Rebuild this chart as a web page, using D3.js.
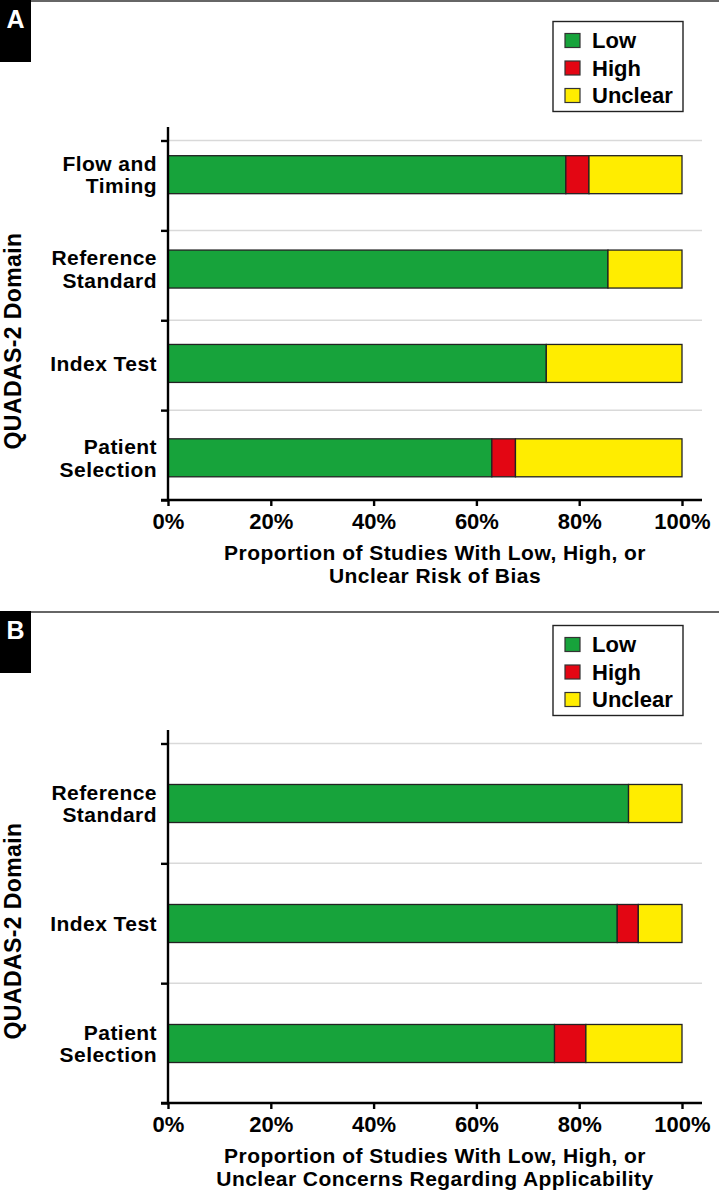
<!DOCTYPE html>
<html>
<head>
<meta charset="utf-8">
<script src="https://cdn.jsdelivr.net/npm/d3@7"></script>
<style>
  html, body { margin: 0; padding: 0; background: #fff; }
  svg { display: block; }
  text { font-family: "Liberation Sans", Arial, Helvetica, sans-serif; font-weight: bold; fill: #000; }
</style>
</head>
<body>
<svg id="chart" width="719" height="1190"></svg>
<script>
// ---------- DATA ----------
const seriesNames = ["Low", "High", "Unclear"];
const seriesColors = ["#17a33b", "#e30613", "#ffed00"];

const categoriesA = ["Flow and Timing", "Reference Standard", "Index Test", "Patient Selection"];
const lowA     = [77.4, 85.6, 73.6, 63.0];
const highA    = [4.5, 0, 0, 4.6];
const unclearA = [18.1, 14.4, 26.4, 32.4];

const categoriesB = ["Reference Standard", "Index Test", "Patient Selection"];
const lowB     = [89.6, 87.4, 75.2];
const highB    = [0, 4.1, 6.1];
const unclearB = [10.4, 8.5, 18.7];

const xTicks = [0, 20, 40, 60, 80, 100];
const panelLabels = ["A", "B"];
const yTitle = "QUADAS-2 Domain";
const xTitleA = ["Proportion of Studies With Low, High, or", "Unclear Risk of Bias"];
const xTitleB = ["Proportion of Studies With Low, High, or", "Unclear Concerns Regarding Applicability"];

// ---------- DRAW ----------
const svg = d3.select("#chart");
const FS = 21, LS = 0.45;

const labelLines = {
  "Flow and Timing": ["Flow and", "Timing"],
  "Reference Standard": ["Reference", "Standard"],
  "Index Test": ["Index Test"],
  "Patient Selection": ["Patient", "Selection"]
};

function drawPanel(cfg) {
  const g = svg.append("g");
  const x = d3.scaleLinear().domain([0, 100]).range([168, 682]);

  // top separator line and panel label
  g.append("line").attr("x1", 31).attr("x2", 719)
    .attr("y1", cfg.top + 1).attr("y2", cfg.top + 1)
    .attr("stroke", "#333").attr("stroke-width", 1.6);
  g.append("rect").attr("x", 0).attr("y", cfg.top).attr("width", 31).attr("height", 62).attr("fill", "#000");
  g.append("text").attr("x", 15.5).attr("y", cfg.top + 27.5).attr("text-anchor", "middle")
    .style("font-size", "25px").style("fill", "#fff").text(cfg.label);

  // grid scale
  const n = cfg.cats.length;
  const gy = d3.scaleLinear().domain([0, n]).range([cfg.axisY, cfg.gridTop]);
  const gridVals = d3.range(1, n + 1);

  g.selectAll(".grid").data(gridVals).join("line")
    .attr("x1", 168).attr("x2", 702)
    .attr("y1", d => gy(d)).attr("y2", d => gy(d))
    .attr("stroke", "#d9d9d9").attr("stroke-width", 1.5);

  // bars
  const y = d3.scaleBand().domain(cfg.cats)
    .range([cfg.bandTop, cfg.bandBottom])
    .paddingInner(cfg.pad).paddingOuter(cfg.pad / 2);

  const rows = cfg.cats.map((c, i) => ({ cat: c, Low: cfg.low[i], High: cfg.high[i], Unclear: cfg.unclear[i] }));
  const stacked = d3.stack().keys(seriesNames)(rows);
  const color = d3.scaleOrdinal().domain(seriesNames).range(seriesColors);

  g.selectAll(".series").data(stacked).join("g")
    .attr("fill", d => color(d.key))
    .selectAll("rect").data(d => d.filter(s => s[1] - s[0] > 0)).join("rect")
    .attr("x", d => x(d[0]))
    .attr("width", d => x(d[1]) - x(d[0]))
    .attr("y", d => y(d.data.cat))
    .attr("height", y.bandwidth())
    .attr("stroke", "#222").attr("stroke-width", 1.3);

  // category labels
  cfg.cats.forEach(c => {
    const lines = labelLines[c];
    const cy = y(c) + y.bandwidth() / 2;
    const lh = 22.5;
    const t = g.append("text").attr("text-anchor", "end")
      .style("font-size", FS + "px").style("letter-spacing", LS + "px");
    lines.forEach((l, i) => {
      t.append("tspan").attr("x", 157)
        .attr("y", cy + 7.5 + (i - (lines.length - 1) / 2) * lh).text(l);
    });
  });

  // y axis with ticks at grid positions
  const yAxis = d3.axisLeft(gy).tickValues(d3.range(0, n + 1)).tickSize(7).tickFormat("");
  const ya = g.append("g").attr("transform", "translate(168,0)").call(yAxis);
  ya.select(".domain").remove();
  ya.selectAll(".tick line").attr("stroke", "#000").attr("stroke-width", 2.4);
  g.append("line").attr("x1", 168).attr("x2", 168)
    .attr("y1", cfg.axisTop).attr("y2", cfg.axisY + 1.2)
    .attr("stroke", "#000").attr("stroke-width", 2.4);

  // x axis
  const xAxis = d3.axisBottom(x).tickValues(xTicks).tickSize(6).tickFormat(d => d + "%");
  const xa = g.append("g").attr("transform", `translate(0,${cfg.axisY})`).call(xAxis);
  xa.select(".domain").remove();
  xa.selectAll(".tick line").attr("stroke", "#000").attr("stroke-width", 2.4);
  xa.selectAll(".tick text").attr("dy", null).attr("y", 29)
    .style("font-size", "22px")
    .style("font-family", "'Liberation Sans', Arial, sans-serif").style("font-weight", "bold").attr("fill", "#000");
  g.append("line").attr("x1", 161).attr("x2", 702)
    .attr("y1", cfg.axisY).attr("y2", cfg.axisY)
    .attr("stroke", "#000").attr("stroke-width", 2.4);

  // x title
  const xt = g.append("text").attr("text-anchor", "middle")
    .style("font-size", FS + "px").style("letter-spacing", LS + "px");
  cfg.xTitle.forEach((l, i) => {
    xt.append("tspan").attr("x", 435).attr("y", cfg.axisY + 60 + i * 22.5).text(l);
  });

  // y title
  g.append("text").attr("text-anchor", "middle")
    .attr("transform", `translate(21,${cfg.yTitleY}) rotate(-90)`)
    .style("font-size", "23px").style("letter-spacing", "0.4px").text(yTitle);

  // legend
  const lg = g.append("g").attr("transform", `translate(553,${cfg.legendTop})`);
  lg.append("rect").attr("x", 0).attr("y", 0).attr("width", 130).attr("height", 90)
    .attr("fill", "#fff").attr("stroke", "#222").attr("stroke-width", 1.4);
  seriesNames.forEach((s, i) => {
    lg.append("rect").attr("x", 12).attr("y", 12 + i * 27.5).attr("width", 15).attr("height", 14)
      .attr("fill", seriesColors[i]).attr("stroke", "#333").attr("stroke-width", 1.2);
    lg.append("text").attr("x", 39).attr("y", 26.5 + i * 27.5)
      .style("font-size", "22px").text(s);
  });
}

drawPanel({
  label: panelLabels[0], top: 0, cats: categoriesA,
  low: lowA, high: highA, unclear: unclearA,
  axisY: 500, gridTop: 140.5, axisTop: 127,
  bandTop: 127.5, bandBottom: 505, pad: 0.5975,
  xTitle: xTitleA, yTitleY: 341, legendTop: 21.5
});

drawPanel({
  label: panelLabels[1], top: 611, cats: categoriesB,
  low: lowB, high: highB, unclear: unclearB,
  axisY: 1103, gridTop: 743.5, axisTop: 730,
  bandTop: 743.5, bandBottom: 1103.5, pad: 0.683,
  xTitle: xTitleB, yTitleY: 931, legendTop: 625.5
});
</script>
</body>
</html>
